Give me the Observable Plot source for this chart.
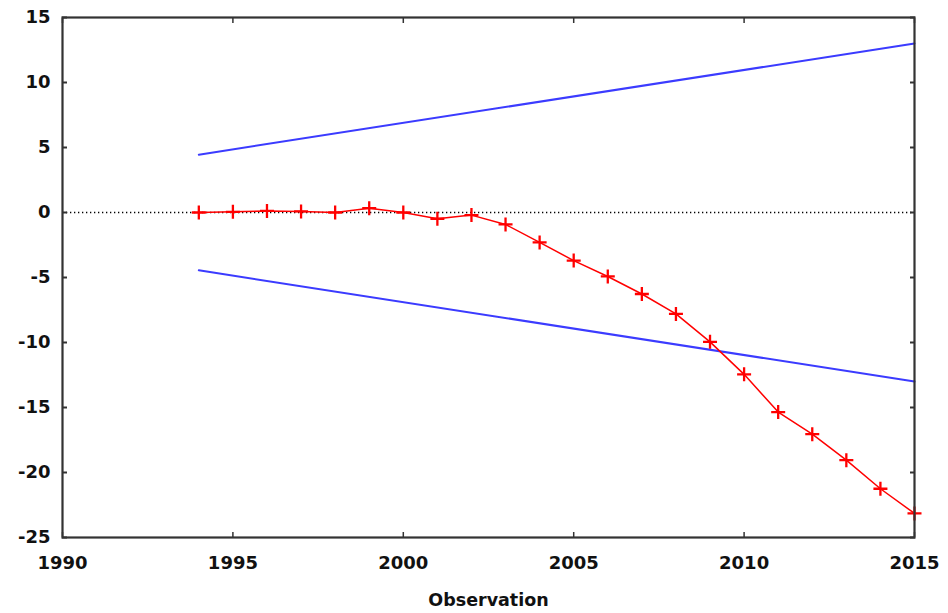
<!DOCTYPE html>
<html>
<head>
<meta charset="utf-8">
<script src="https://cdn.jsdelivr.net/npm/d3@7"></script>
<script src="https://cdn.jsdelivr.net/npm/@observablehq/plot@0.6"></script>
<style>
  html, body { margin: 0; padding: 0; background: #fff; }
  #chart { width: 948px; height: 613px; }
</style>
</head>
<body>
<div id="chart"></div>
<script>
const years = [1994,1995,1996,1997,1998,1999,2000,2001,2002,2003,2004,2005,2006,2007,2008,2009,2010,2011,2012,2013,2014,2015];
const cusum = [0.0,0.05,0.12,0.08,0.0,0.33,0.0,-0.48,-0.2,-0.92,-2.3,-3.7,-4.92,-6.27,-7.8,-9.95,-12.45,-15.35,-17.05,-19.05,-21.25,-23.15];
const boundYears = [1994, 2015];
const upperBound = [4.45, 13.0];
const lowerBound = [-4.45, -13.0];
const xTicks = [1990, 1995, 2000, 2005, 2010, 2015];
const yTicks = [-25, -20, -15, -10, -5, 0, 5, 10, 15];
const xLabel = "Observation";

const series = years.map((y, i) => ({year: y, value: cusum[i]}));
const upper = boundYears.map((y, i) => ({year: y, value: upperBound[i]}));
const lower = boundYears.map((y, i) => ({year: y, value: lowerBound[i]}));

const crossSymbol = {
  draw(context, size) {
    const r = Math.sqrt(size / Math.PI);
    context.moveTo(-r, 0); context.lineTo(r, 0);
    context.moveTo(0, -r); context.lineTo(0, r);
  }
};

const font = "'DejaVu Sans', Verdana, sans-serif";
const frameColor = "#333";
const fmt = d => String(d);

const chart = Plot.plot({
  width: 948,
  height: 613,
  marginLeft: 62,
  marginRight: 34,
  marginTop: 17,
  marginBottom: 76,
  style: {fontFamily: font, background: "#fff"},
  x: {domain: [1990, 2015], axis: null, label: null},
  y: {domain: [-25, 15], axis: null, label: null},
  marks: [
    Plot.ruleY([0], {stroke: "#000", strokeWidth: 1.3, strokeDasharray: "1.3,2.7"}),
    Plot.line(upper, {x: "year", y: "value", stroke: "#3b3bff", strokeWidth: 2}),
    Plot.line(lower, {x: "year", y: "value", stroke: "#3b3bff", strokeWidth: 2}),
    Plot.line(series, {x: "year", y: "value", stroke: "#ff0000", strokeWidth: 1.5}),
    Plot.dot(series, {x: "year", y: "value", symbol: crossSymbol, r: 7, stroke: "#ff0000", strokeWidth: 2.3, fill: "none"}),
    // inward ticks
    Plot.axisY(yTicks, {anchor: "left", tickSize: 5, dx: 5, tickFormat: () => "", label: null, stroke: frameColor, strokeWidth: 2}),
    Plot.axisY(yTicks, {anchor: "right", tickSize: 5, dx: -5, tickFormat: () => "", label: null, stroke: frameColor, strokeWidth: 2}),
    Plot.axisX(xTicks, {anchor: "bottom", tickSize: 5, dy: -5, tickFormat: () => "", label: null, stroke: frameColor, strokeWidth: 1.5}),
    Plot.axisX(xTicks, {anchor: "top", tickSize: 5, dy: 5, tickFormat: () => "", label: null, stroke: frameColor, strokeWidth: 1.5}),
    // labels
    Plot.axisY(yTicks, {anchor: "left", tickSize: 0, tickPadding: 12, tickFormat: fmt, label: null, fontSize: 18, fontWeight: "bold", fill: "#111"}),
    Plot.axisX(xTicks, {anchor: "bottom", tickSize: 0, tickPadding: 19, tickFormat: fmt, label: null, fontSize: 18, fontWeight: "bold", fill: "#111"}),
    Plot.frame({stroke: frameColor, strokeWidth: 2.2}),
    Plot.text([xLabel], {frameAnchor: "bottom", dy: 68, fontSize: 17.5, fontWeight: "bold", fill: "#111", text: d => d})
  ]
});
document.getElementById("chart").appendChild(chart);
</script>
</body>
</html>
